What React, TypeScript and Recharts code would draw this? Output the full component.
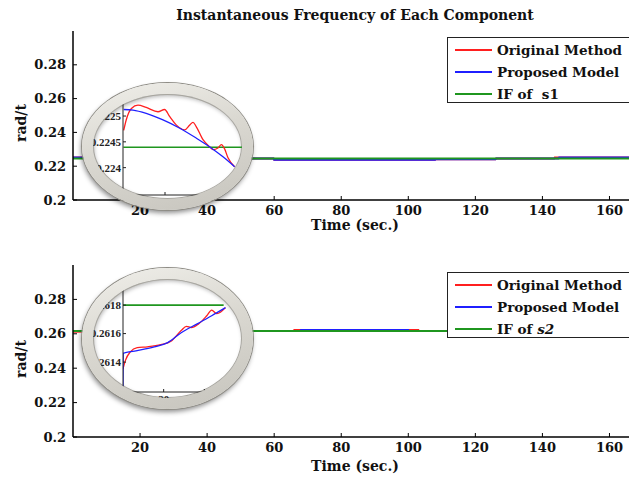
import { LineChart, Line, XAxis, YAxis } from 'recharts'

type Pt = [number, number]

const xTicks = [20, 40, 60, 80, 100, 120, 140, 160]
const yTicks = [0.2, 0.22, 0.24, 0.26, 0.28]

// top panel, component s1 (whole record)
const s1Original: Pt[] = [[0, 0.2252], [50, 0.2247], [59.8, 0.2245], [60, 0.2238], [108, 0.2238], [108.2, 0.2241], [126, 0.2241], [126.2, 0.2245], [143.5, 0.2245], [143.7, 0.2251], [170, 0.2251]]
const s1Proposed: Pt[] = [[0, 0.2252], [50, 0.2247], [59.8, 0.2245], [60, 0.2238], [108, 0.2238], [108.2, 0.2241], [126, 0.2241], [126.2, 0.2245], [144.8, 0.2245], [145, 0.2251], [170, 0.2251]]
const s1True: Pt[] = [[0, 0.2245], [170, 0.2245]]

// bottom panel, component s2
const s2Original: Pt[] = [[0, 0.2612], [4, 0.2613], [50, 0.2616], [65.8, 0.2616], [66, 0.2622], [103, 0.2622], [103.2, 0.2616], [170, 0.2616]]
const s2Proposed: Pt[] = [[0, 0.2616], [67.8, 0.2616], [68, 0.2622], [100, 0.2622], [100.2, 0.2616], [170, 0.2616]]
const s2True: Pt[] = [[0, 0.2616], [170, 0.2616]]

// zoomed insets
const s1ZoomTicksX = [20, 30]
const s1ZoomTicksY = [0.224, 0.2245, 0.225]
const s1ZoomOriginal: Pt[] = [[9.67, 0.22472], [10.3, 0.224924], [11.6, 0.225146], [13.25, 0.22521], [15.3, 0.225166], [18.25, 0.225083], [19.9, 0.225127], [21.2, 0.224987], [22.8, 0.224828], [24.9, 0.224732], [26.2, 0.224828], [27, 0.224879], [27.8, 0.224796], [29.5, 0.224541], [31.2, 0.224401], [32, 0.22435], [33.25, 0.224382], [34.1, 0.224446], [34.9, 0.224363], [35.75, 0.224191], [37.4, 0.224019]]
const s1ZoomProposed: Pt[] = [[9.67, 0.225127], [12, 0.225115], [15.3, 0.225051], [19.5, 0.224924], [23.7, 0.224764], [27.8, 0.224573], [31.2, 0.224401], [34.5, 0.22421], [37.4, 0.224019]]
const s1ZoomTrue: Pt[] = [[9.6, 0.224395], [40, 0.224395]]

const s2ZoomTicksX = [20, 30]
const s2ZoomTicksY = [0.2612, 0.2614, 0.2616, 0.2618]
const s2ZoomOriginal: Pt[] = [[10, 0.261352], [10.6, 0.261412], [11.8, 0.261472], [13.5, 0.261501], [16, 0.261507], [19.3, 0.261522], [21.8, 0.261546], [24.3, 0.261621], [25.6, 0.261651], [26.8, 0.261642], [28.5, 0.261666], [30.6, 0.261725], [31.8, 0.261764], [33.1, 0.26174], [35.2, 0.261782]]
const s2ZoomProposed: Pt[] = [[10, 0.261233], [10.05, 0.261463], [10.6, 0.261466], [13.5, 0.261481], [17.7, 0.261507], [21, 0.261537], [24.3, 0.261606], [28.5, 0.261672], [31.8, 0.261725], [35.2, 0.261782]]
const s2ZoomTrue: Pt[] = [[10, 0.2618], [34.75, 0.2618]]

const rows = (pts: Pt[]) => pts.map(([t, v]) => ({ t, v }))

const SERIF = '"DejaVu Serif", serif'
const SMALL = '"Liberation Serif", serif'
const RED = '#ff1f1f'
const BLUE = '#1f1fff'
const GREEN = '#1f961f'

function Panel({ top, plotTop, plotHeight, original, proposed, truth }: {
  top: number; plotTop: number; plotHeight: number; original: Pt[]; proposed: Pt[]; truth: Pt[]
}) {
  const tick = { fill: '#111', fontSize: 13, fontWeight: 'bold', fontFamily: SERIF }
  return (
    <div style={{ position: 'absolute', left: 0, top }}>
      <LineChart width={643} height={plotTop + plotHeight + 30} margin={{ top: plotTop, right: 0, bottom: 0, left: 0 }}>
        <XAxis dataKey="t" type="number" domain={[0, 170]} ticks={xTicks} allowDataOverflow height={30}
          stroke="#000" axisLine={{ strokeWidth: 1.5 }} tickSize={-4} tickMargin={10} tick={tick} />
        <YAxis type="number" domain={[0.2, 0.3]} ticks={yTicks} width={73} allowDataOverflow
          stroke="#000" axisLine={{ strokeWidth: 1.5 }} tickSize={-4} tickMargin={11} tick={tick}
          tickFormatter={(v: number) => String(v)} />
        <Line data={rows(original)} dataKey="v" stroke={RED} strokeWidth={2} dot={false} type="linear" isAnimationActive={false} />
        <Line data={rows(proposed)} dataKey="v" stroke={BLUE} strokeWidth={2} dot={false} type="linear" isAnimationActive={false} />
        <Line data={rows(truth)} dataKey="v" stroke={GREEN} strokeWidth={2} dot={false} type="linear" isAnimationActive={false} />
      </LineChart>
    </div>
  )
}

function Lens({ left, top, width, height, plotTop, plotHeight, xDomain, xTicks: xt, yDomain, yTicks: yt, original, proposed, truth }: {
  left: number; top: number; width: number; height: number; plotTop: number; plotHeight: number
  xDomain: [number, number]; xTicks: number[]; yDomain: [number, number]; yTicks: number[]
  original: Pt[]; proposed: Pt[]; truth: Pt[]
}) {
  const ring = 11
  const tick = { fill: '#222', fontSize: 11, fontWeight: 'bold', fontFamily: SMALL }
  return (
    <div style={{
      position: 'absolute', left, top, width, height, borderRadius: '50%',
      background: 'linear-gradient(165deg, #f0efea 0%, #dad8d1 45%, #c6c4bd 100%)',
      boxShadow: '0 0 0 1px #8f8d86, -1px 3px 5px rgba(0,0,0,0.45)',
    }}>
      <div style={{
        position: 'absolute', left: ring, top: ring, width: width - 2 * ring, height: height - 2 * ring,
        borderRadius: '50%', overflow: 'hidden', background: '#fff',
        boxShadow: 'inset 0 0 0 1px #a8a69f, inset 1px 2px 4px rgba(0,0,0,0.3)',
      }}>
        <LineChart width={152} height={plotTop + plotHeight + 20} margin={{ top: plotTop, right: 0, bottom: 0, left: 0 }}>
          <XAxis dataKey="t" type="number" domain={xDomain} ticks={xt} allowDataOverflow height={20}
            stroke="#222" tickSize={-3} tickMargin={6} tick={tick} />
          <YAxis type="number" domain={yDomain} ticks={yt} width={30} allowDataOverflow
            stroke="#222" tickSize={-3} tickMargin={5} tick={tick} tickFormatter={(v: number) => String(v)} />
          <Line data={rows(truth)} dataKey="v" stroke={GREEN} strokeWidth={1.6} dot={false} type="linear" isAnimationActive={false} />
          <Line data={rows(original)} dataKey="v" stroke={RED} strokeWidth={1.3} dot={false} type="monotone" isAnimationActive={false} />
          <Line data={rows(proposed)} dataKey="v" stroke={BLUE} strokeWidth={1.3} dot={false} type="monotone" isAnimationActive={false} />
        </LineChart>
      </div>
    </div>
  )
}

function LegendBox({ top, last, italic }: { top: number; last: string; italic?: boolean }) {
  const items = [
    { label: 'Original Method', color: RED },
    { label: 'Proposed Model', color: BLUE },
    { label: last, color: GREEN },
  ]
  return (
    <div style={{
      position: 'absolute', left: 447, top, width: 200, height: 66, boxSizing: 'border-box',
      border: '1.5px solid #222', background: '#fff',
    }}>
      {items.map((it, i) => (
        <div key={it.label} style={{ position: 'absolute', left: 0, top: 3 + i * 22, height: 18, width: 200 }}>
          <div style={{ position: 'absolute', left: 7, top: 8, width: 37, height: 2, background: it.color }} />
          <div style={{
            position: 'absolute', left: 49, top: 0, lineHeight: '18px', fontFamily: SERIF, fontSize: 13.5,
            fontWeight: 'bold', color: '#111', whiteSpace: 'pre',
          }}>
            {i === 2 && italic ? <>IF of <i>s2</i></> : it.label}
          </div>
        </div>
      ))}
    </div>
  )
}

const label = (text: string, x: number, y: number, size = 14, rotate = false) => (
  <div style={{
    position: 'absolute', left: x, top: y, transform: `translate(-50%, -50%)${rotate ? ' rotate(-90deg)' : ''}`,
    fontFamily: SERIF, fontSize: size, fontWeight: 'bold', color: '#111', whiteSpace: 'pre', lineHeight: 1.2,
  }}>{text}</div>
)

export default function App() {
  return (
    <div style={{ position: 'absolute', left: 0, top: 0, width: 629, height: 478, overflow: 'hidden', background: '#fff' }}>
      {label('Instantaneous Frequency of Each Component', 355, 15)}
      <Panel top={0} plotTop={31} plotHeight={169} original={s1Original} proposed={s1Proposed} truth={s1True} />
      <Panel top={240} plotTop={25} plotHeight={172} original={s2Original} proposed={s2Proposed} truth={s2True} />
      {label('Time (sec.)', 355, 225)}
      {label('Time (sec.)', 355, 466)}
      {label('rad/t', 21, 123, 14, true)}
      {label('rad/t', 21, 359, 14, true)}
      <Lens left={82} top={83} width={171} height={127} plotTop={5} plotHeight={96}
        xDomain={[9.5, 40]} xTicks={s1ZoomTicksX} yDomain={[0.22347, 0.22533]} yTicks={s1ZoomTicksY}
        original={s1ZoomOriginal} proposed={s1ZoomProposed} truth={s1ZoomTrue} />
      <Lens left={82} top={268} width={171} height={141} plotTop={9} plotHeight={104}
        xDomain={[10, 40]} xTicks={s2ZoomTicksX} yDomain={[0.26119, 0.26192]} yTicks={s2ZoomTicksY}
        original={s2ZoomOriginal} proposed={s2ZoomProposed} truth={s2ZoomTrue} />
      <LegendBox top={37} last="IF of  s1" />
      <LegendBox top={272} last="IF of  s2" italic />
    </div>
  )
}
